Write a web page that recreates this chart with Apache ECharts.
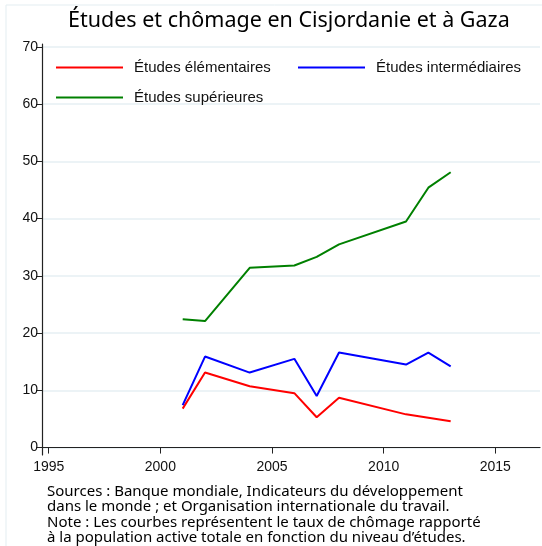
<!DOCTYPE html>
<html>
<head>
<meta charset="utf-8">
<script src="https://cdn.jsdelivr.net/npm/echarts@6/dist/echarts.min.js"></script>
<style>
  html, body { margin: 0; padding: 0; background: #fff; }
  #chart { width: 542px; height: 546px; }
</style>
</head>
<body>
<div id="chart"></div>
<script>
// données
var elemYears = [2001, 2002, 2004, 2006, 2007, 2008, 2011, 2012, 2013];
var elemValues = [6.8, 13.1, 10.7, 9.5, 5.3, 8.7, 5.8, 5.2, 4.6];

var interYears = [2001, 2002, 2004, 2006, 2007, 2008, 2011, 2012, 2013];
var interValues = [7.4, 15.9, 13.1, 15.5, 9.0, 16.6, 14.5, 16.6, 14.2];

var supYears = [2001, 2002, 2004, 2006, 2007, 2008, 2011, 2012, 2013];
var supValues = [22.4, 22.1, 31.4, 31.8, 33.3, 35.5, 39.5, 45.4, 48.1];

var xTicks = [1995, 2000, 2005, 2010, 2015];
var yTicks = [0, 10, 20, 30, 40, 50, 60, 70];

var seriesNames = ['Études élémentaires', 'Études intermédiaires', 'Études supérieures'];
var colors = ['#ff0000', '#0000ff', '#008000'];

function pairs(xs, ys) {
  return xs.map(function (x, i) { return [x, ys[i]]; });
}

var chart = echarts.init(document.getElementById('chart'));

function legendAt(name, left, top) {
  return {
    data: [name],
    left: left,
    top: top,
    icon: 'rect',
    itemWidth: 67,
    itemHeight: 2,
    selectedMode: false,
    textStyle: {
      fontFamily: 'Liberation Sans',
      fontSize: 15,
      color: '#111',
      padding: [0, 0, 0, 6]
    }
  };
}

var option = {
  backgroundColor: '#fff',
  animation: false,
  title: {
    text: 'Études et chômage en Cisjordanie et à Gaza',
    left: 63,
    top: 5,
    textStyle: {
      fontFamily: 'Noto Sans',
      fontWeight: 'normal',
      fontSize: 21.5,
      color: '#000'
    }
  },
  legend: [
    legendAt(seriesNames[0], 51, 55),
    legendAt(seriesNames[1], 293, 55),
    legendAt(seriesNames[2], 51, 85)
  ],
  grid: {
    left: 42,
    right: 2,
    top: 44,
    bottom: 91
  },
  xAxis: {
    type: 'value',
    min: 1994.7,
    max: 2017,
    axisLine: { show: true, lineStyle: { color: '#222', width: 1.2 } },
    axisTick: { show: true, length: 6, customValues: xTicks, lineStyle: { color: '#222' } },
    axisLabel: {
      customValues: xTicks,
      formatter: function (v) { return String(v); },
      fontFamily: 'Liberation Sans',
      fontSize: 14,
      color: '#111',
      margin: 5
    },
    splitLine: { show: false }
  },
  yAxis: {
    type: 'value',
    min: -1.3,
    max: 70.5,
    axisLine: { show: true, lineStyle: { color: '#222', width: 1.2 } },
    axisTick: { show: true, length: 6, customValues: yTicks, lineStyle: { color: '#222' } },
    axisLabel: {
      customValues: yTicks,
      fontFamily: 'Liberation Sans',
      fontSize: 14,
      color: '#111',
      margin: 4
    },
    splitLine: { show: true, lineStyle: { color: '#e6eff3', width: 1.5 } }
  },
  graphic: [
    {
      type: 'rect',
      shape: { x: 6, y: 5, width: 560, height: 560 },
      style: { fill: 'none', stroke: '#e3edf1', lineWidth: 1 },
      silent: true
    },
    {
      type: 'text',
      left: 47,
      top: 484,
      style: {
        text: 'Sources : Banque mondiale, Indicateurs du développement\n' +
              'dans le monde ; et Organisation internationale du travail.\n' +
              'Note : Les courbes représentent le taux de chômage rapporté\n' +
              'à la population active totale en fonction du niveau d’études.',
        font: '15px "Noto Sans"',
        lineHeight: 15.4,
        fill: '#000'
      }
    }
  ],
  series: [
    {
      name: seriesNames[0],
      type: 'line',
      symbol: 'none',
      data: pairs(elemYears, elemValues),
      lineStyle: { color: colors[0], width: 2 },
      itemStyle: { color: colors[0] }
    },
    {
      name: seriesNames[1],
      type: 'line',
      symbol: 'none',
      data: pairs(interYears, interValues),
      lineStyle: { color: colors[1], width: 2 },
      itemStyle: { color: colors[1] }
    },
    {
      name: seriesNames[2],
      type: 'line',
      symbol: 'none',
      data: pairs(supYears, supValues),
      lineStyle: { color: colors[2], width: 2 },
      itemStyle: { color: colors[2] }
    }
  ]
};

chart.setOption(option);
</script>
</body>
</html>
